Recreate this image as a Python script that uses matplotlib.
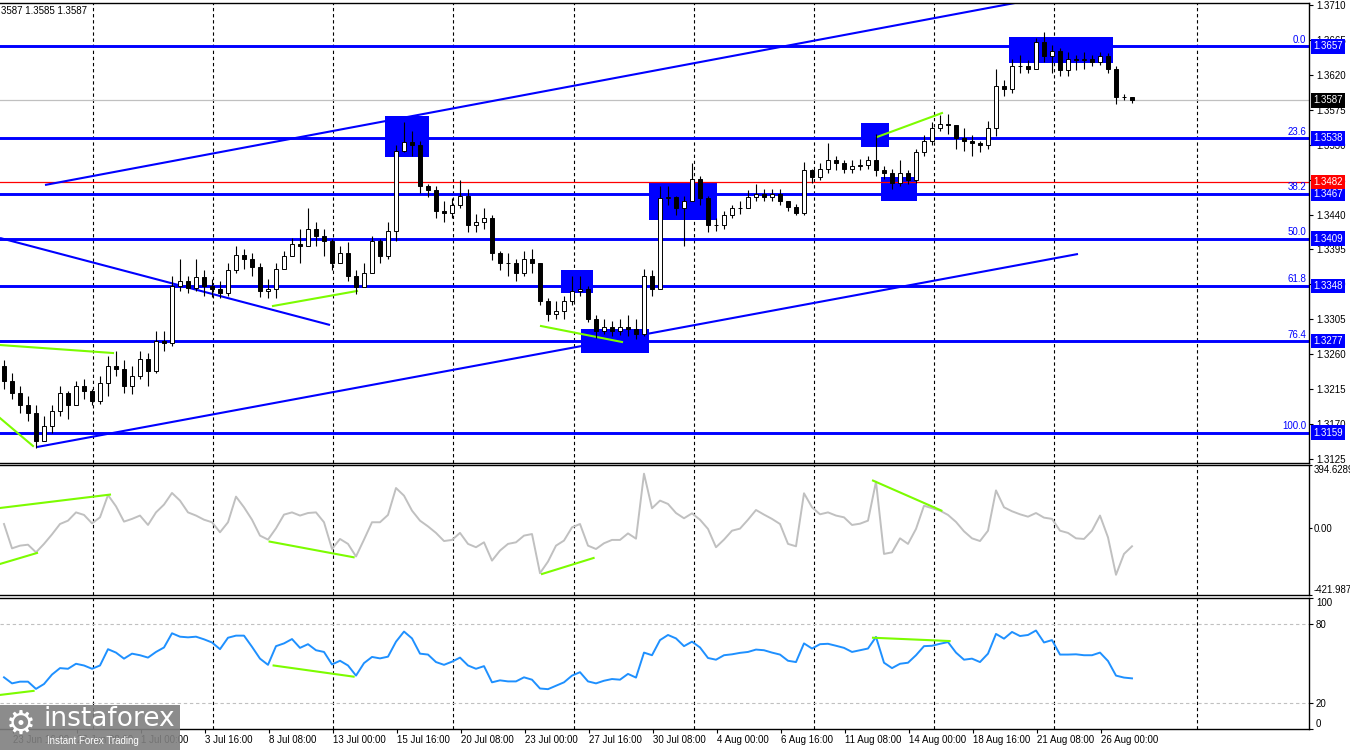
import matplotlib
matplotlib.use("Agg")
import matplotlib.pyplot as plt
import matplotlib.transforms as mtransforms
from matplotlib.patches import Rectangle
import numpy as np

plt.rcParams['font.family'] = ['Liberation Sans', 'DejaVu Sans']

# ---------------- data (GBP/USD H4, candles grouped by 2 bars) ----------------
first_open = 1.3245
closes = [1.3226, 1.3210, 1.3194, 1.3184, 1.3148, 1.3168, 1.3187, 1.3210, 1.3194, 1.3219,
          1.3213, 1.3200, 1.3223, 1.3245, 1.3241, 1.3219, 1.3232, 1.3254, 1.3239, 1.3277,
          1.3275, 1.3348, 1.3355, 1.3346, 1.3359, 1.3348, 1.3344, 1.3339, 1.3368, 1.3388,
          1.3383, 1.3373, 1.3342, 1.3344, 1.3370, 1.3386, 1.3402, 1.3400, 1.3422, 1.3412,
          1.3406, 1.3378, 1.3391, 1.3361, 1.3347, 1.3365, 1.3406, 1.3387, 1.3419, 1.3522,
          1.3534, 1.3529, 1.3477, 1.3471, 1.3445, 1.3442, 1.3452, 1.3464, 1.3426, 1.3430,
          1.3435, 1.3391, 1.3378, 1.3378, 1.3365, 1.3383, 1.3378, 1.3329, 1.3312, 1.3316,
          1.3329, 1.3342, 1.3344, 1.3306, 1.3290, 1.3295, 1.3290, 1.3295, 1.3293, 1.3286,
          1.3361, 1.3344, 1.3461, 1.3462, 1.3448, 1.3458, 1.3486, 1.3461, 1.3426, 1.3426,
          1.3439, 1.3448, 1.3449, 1.3463, 1.3466, 1.3463, 1.3466, 1.3458, 1.3450, 1.3442,
          1.3497, 1.3488, 1.3499, 1.3510, 1.3506, 1.3499, 1.3502, 1.3504, 1.3510, 1.3497,
          1.3494, 1.3481, 1.3494, 1.3484, 1.3520, 1.3535, 1.3551, 1.3557, 1.3555, 1.3538,
          1.3535, 1.3532, 1.3529, 1.3551, 1.3605, 1.3602, 1.3632, 1.3631, 1.3628, 1.3662,
          1.3644, 1.3651, 1.3626, 1.3641, 1.3639, 1.3641, 1.3636, 1.3644, 1.3628, 1.3592,
          1.3591, 1.3587]
highs = [1.3252, 1.3236, 1.3219, 1.3206, 1.3194, 1.3181, 1.3194, 1.3219, 1.3213, 1.3226,
         1.3228, 1.3215, 1.3232, 1.3258, 1.3264, 1.3252, 1.3245, 1.3264, 1.3262, 1.3290,
         1.3290, 1.3361, 1.3383, 1.3361, 1.3383, 1.3368, 1.3357, 1.3355, 1.3378, 1.3400,
         1.3396, 1.3391, 1.3378, 1.3357, 1.3378, 1.3393, 1.3410, 1.3422, 1.3449, 1.3430,
         1.3422, 1.3409, 1.3400, 1.3404, 1.3368, 1.3378, 1.3413, 1.3409, 1.3430, 1.3529,
         1.3559, 1.3548, 1.3535, 1.3480, 1.3477, 1.3458, 1.3461, 1.3484, 1.3473, 1.3441,
         1.3448, 1.3439, 1.3393, 1.3391, 1.3383, 1.3393, 1.3396, 1.3378, 1.3332, 1.3329,
         1.3335, 1.3361, 1.3361, 1.3348, 1.3310, 1.3306, 1.3303, 1.3306, 1.3311, 1.3306,
         1.3370, 1.3368, 1.3477, 1.3477, 1.3464, 1.3464, 1.3507, 1.3490, 1.3464, 1.3435,
         1.3445, 1.3452, 1.3458, 1.3471, 1.3480, 1.3473, 1.3473, 1.3473, 1.3458, 1.3454,
         1.3508, 1.3499, 1.3506, 1.3532, 1.3516, 1.3510, 1.3510, 1.3512, 1.3516, 1.3544,
         1.3503, 1.3499, 1.3510, 1.3497, 1.3525, 1.3542, 1.3559, 1.3568, 1.3570, 1.3555,
         1.3551, 1.3542, 1.3535, 1.3561, 1.3628, 1.3613, 1.3641, 1.3645, 1.3639, 1.3668,
         1.3675, 1.3658, 1.3654, 1.3649, 1.3645, 1.3649, 1.3645, 1.3649, 1.3648, 1.3632,
         1.3595, 1.3592]
lows = [1.3215, 1.3203, 1.3184, 1.3174, 1.3139, 1.3154, 1.3159, 1.3181, 1.3177, 1.3200,
        1.3203, 1.3194, 1.3196, 1.3206, 1.3232, 1.3210, 1.3209, 1.3228, 1.3219, 1.3236,
        1.3264, 1.3271, 1.3342, 1.3339, 1.3342, 1.3335, 1.3334, 1.3332, 1.3335, 1.3365,
        1.3370, 1.3361, 1.3334, 1.3332, 1.3333, 1.3378, 1.3387, 1.3378, 1.3406, 1.3400,
        1.3387, 1.3368, 1.3378, 1.3355, 1.3338, 1.3348, 1.3368, 1.3378, 1.3383, 1.3406,
        1.3520, 1.3516, 1.3468, 1.3462, 1.3435, 1.3430, 1.3435, 1.3448, 1.3417, 1.3417,
        1.3422, 1.3381, 1.3368, 1.3361, 1.3355, 1.3361, 1.3365, 1.3323, 1.3303, 1.3306,
        1.3306, 1.3323, 1.3335, 1.3301, 1.3281, 1.3286, 1.3284, 1.3285, 1.3284, 1.3280,
        1.3283, 1.3335, 1.3352, 1.3452, 1.3439, 1.3400, 1.3464, 1.3452, 1.3417, 1.3419,
        1.3422, 1.3435, 1.3441, 1.3453, 1.3458, 1.3457, 1.3458, 1.3452, 1.3445, 1.3439,
        1.3440, 1.3481, 1.3484, 1.3494, 1.3497, 1.3494, 1.3494, 1.3497, 1.3499, 1.3490,
        1.3486, 1.3473, 1.3477, 1.3479, 1.3481, 1.3516, 1.3529, 1.3548, 1.3544, 1.3525,
        1.3522, 1.3516, 1.3520, 1.3525, 1.3541, 1.3593, 1.3597, 1.3623, 1.3623, 1.3636,
        1.3636, 1.3623, 1.3619, 1.3619, 1.3626, 1.3628, 1.3631, 1.3633, 1.3623, 1.3582,
        1.3587, 1.3584]
cci = [24, -129, -112, -106, -154, -101, -41, 24, 45, 97,
       81, 28, 66, 206, 135, 39, 56, 77, 18, 97,
       146, 219, 171, 97, 77, 51, 35, -28, 35, 196,
       129, 51, -49, -74, -3, 83, 97, 77, 93, 97,
       35, -133, -70, -101, -180, -74, 35, 35, 81, 250,
       202, 108, 45, 9, -32, -83, -76, -32, -101, -122,
       -91, -206, -143, -101, -91, -49, -39, -285, -212, -112,
       -80, 3, 24, -112, -133, -97, -76, -76, -35, -68,
       340, 123, 171, 150, 93, 60, 91, 51, -7, -122,
       -74, -18, -5, 51, 112, 83, 56, 24, -101, -116,
       217, 129, 85, 97, 77, 66, 18, 26, 45, 290,
       -164, -154, -66, -101, -7, 139, 123, 108, 81, 37,
       -22, -66, -83, -18, 235, 129, 104, 85, 70, 93,
       64, 56, -18, -32, -66, -70, -18, 77, -60, -295,
       -164, -116]
stoch = [39.3, 34.7, 36.0, 36.0, 30.5, 34.2, 41.4, 46.3, 45.8, 49.6,
         48.3, 45.8, 48.3, 60.7, 58.1, 53.5, 57.3, 56.1, 54.3, 58.6,
         62.0, 72.8, 70.2, 69.7, 70.2, 68.2, 65.8, 60.7, 69.4, 71.0,
         71.0, 62.5, 53.5, 48.8, 63.0, 65.1, 68.4, 61.7, 64.5, 59.9,
         58.6, 49.1, 51.9, 48.3, 40.6, 50.1, 54.8, 53.7, 55.0, 66.4,
         74.1, 68.9, 57.3, 56.6, 50.9, 48.8, 51.2, 54.3, 48.3, 45.8,
         47.8, 35.5, 37.0, 36.2, 36.2, 39.3, 37.5, 30.8, 30.3, 32.9,
         35.5, 40.6, 43.2, 36.2, 34.7, 36.7, 38.0, 37.5, 41.9, 39.1,
         58.1, 56.1, 67.6, 71.5, 68.9, 63.0, 66.4, 62.0, 54.0, 52.7,
         56.1, 56.8, 57.9, 58.6, 60.4, 59.9, 58.1, 56.6, 51.9, 50.9,
         65.1, 61.2, 64.5, 64.8, 63.3, 61.7, 58.6, 59.9, 61.2, 70.0,
         50.4, 46.3, 49.6, 50.4, 56.1, 63.0, 63.3, 64.8, 66.1, 58.1,
         52.7, 53.5, 50.9, 57.3, 72.3, 68.7, 73.8, 70.7, 71.5, 74.9,
         65.8, 67.6, 56.6, 56.6, 56.8, 56.1, 56.1, 58.1, 51.7, 40.6,
         39.1, 38.5]

date_labels = ["23 Jun 16:00", "26 Jun 08:00", "1 Jul 00:00", "3 Jul 16:00", "8 Jul 08:00",
               "13 Jul 00:00", "15 Jul 16:00", "20 Jul 08:00", "23 Jul 00:00", "27 Jul 16:00",
               "30 Jul 08:00", "4 Aug 00:00", "6 Aug 16:00", "11 Aug 08:00", "14 Aug 00:00",
               "18 Aug 16:00", "21 Aug 08:00", "26 Aug 00:00"]
price_ticks = [1.3710, 1.3665, 1.3620, 1.3575, 1.3530, 1.3485, 1.3440, 1.3395,
               1.3350, 1.3305, 1.3260, 1.3215, 1.3170, 1.3125]
fib_levels = [1.3657, 1.3538, 1.3467, 1.3409, 1.3348, 1.3277, 1.3159]
fib_names = ["0.0", "23.6", "38.2", "50.0", "61.8", "76.4", "100.0"]
last_price = 1.3587
red_level = 1.3482
cci_range = (-421.9874, 394.6289)

# drawn objects (bar index, price / indicator value)
trend_lines = [((11.25, 1.34781), (253.75, 1.37126)),
               ((9.25, 1.31405), (269.5, 1.33892)),
               ((0.0, 1.34098), (82.5, 1.32977))]
green_main = [((0.0, 1.32719), (28.25, 1.32616)),
              ((0.0, 1.31778), (8.25, 1.31418)),
              ((68.25, 1.33222), (89.25, 1.33415)),
              ((135.25, 1.32964), (155.5, 1.32758)),
              ((219.25, 1.35399), (235.5, 1.35708))]
green_cci = [((0.0, 124.6), (27.5, 208.7)),
             ((0.0, -227.0), (9.25, -158.0)),
             ((67.4, -86.4), (88.4, -185.0)),
             ((135.5, -290.0), (148.4, -189.4)),
             ((218.25, 296.7), (235.35, 108.3))]
green_stoch = [((0.0, 25.9), (8.4, 29.0)),
               ((68.4, 48.3), (88.4, 39.8)),
               ((218.25, 69.4), (237.4, 66.9))]
zones = [((96.25, 1.35142), (107.25, 1.35670)),
         ((140.25, 1.33389), (148.25, 1.33685)),
         ((145.25, 1.32616), (162.25, 1.32925)),
         ((162.25, 1.34336), (179.25, 1.34813)),
         ((215.25, 1.35270), (222.25, 1.35580)),
         ((220.25, 1.34575), (229.25, 1.34884)),
         ((252.25, 1.36353), (278.25, 1.36688))]
grid_x = [23.25, 53.25, 83.25, 113.25, 143.4, 173.4, 203.4, 233.4, 263.4, 299.25]

# ---------------- figure ----------------
W, H = 1350, 750
fig = plt.figure(figsize=(13.5, 7.5), dpi=100)
fig.patch.set_facecolor('white')


def px_axes(x0, y0, x1, y1):
    return fig.add_axes([x0 / W, 1 - y1 / H, (x1 - x0) / W, (y1 - y0) / H])


ax = px_axes(0, 2.5, 1309, 463)
ax2 = px_axes(0, 465, 1309, 595)
ax3 = px_axes(0, 597.5, 1309, 729)
XMAX = 1309 / 4.0

BLUE = '#0000FF'
GREEN = '#7CFC00'
FS = 7

for a in (ax, ax2, ax3):
    a.set_xlim(0, XMAX)
    a.spines['left'].set_visible(False)
    for s in ('top', 'right', 'bottom'):
        a.spines[s].set_linewidth(1.0)
        a.spines[s].set_color('black')
    a.yaxis.tick_right()
    a.tick_params(axis='y', length=3, width=0.8, pad=2, labelsize=FS, colors='black')
    for gx in grid_x:
        a.axvline(gx, color='black', lw=0.8, dashes=(3, 2.5), zorder=0.5)

ax.set_xticks([])
ax2.set_xticks([])

# ---------------- main price panel ----------------
n = len(closes)
x = np.arange(n) * 2 + 1
c = np.array(closes)
o = np.concatenate([[first_open], c[:-1]])
h = np.maximum(np.array(highs), np.maximum(o, c))
l = np.minimum(np.array(lows), np.minimum(o, c))

ax.set_ylim(1.31199, 1.37132)

for (x0, y0), (x1, y1) in zones:
    ax.add_patch(Rectangle((x0, y0), x1 - x0, y1 - y0, facecolor=BLUE,
                           edgecolor='none', zorder=1))

for lev in fib_levels:
    ax.axhline(lev, color=BLUE, lw=2.1, zorder=2)
ax.axhline(red_level, color='#FF0000', lw=0.9, zorder=2)
ax.axhline(last_price, color='#C0C0C0', lw=0.9, zorder=2)

for (x0, y0), (x1, y1) in trend_lines:
    ax.plot([x0, x1], [y0, y1], color=BLUE, lw=1.5, zorder=2.2, solid_capstyle='butt')
for (x0, y0), (x1, y1) in green_main:
    ax.plot([x0, x1], [y0, y1], color=GREEN, lw=1.5, zorder=2.3)

ax.vlines(x, l, h, color='black', lw=0.8, zorder=3)
bull = c >= o
body_bot = np.minimum(o, c)
body_h = np.abs(c - o)
ax.bar(x[bull], body_h[bull], bottom=body_bot[bull], width=1.15, color='white',
       edgecolor='black', linewidth=0.7, zorder=4)
ax.bar(x[~bull], body_h[~bull], bottom=body_bot[~bull], width=1.15, color='black',
       edgecolor='black', linewidth=0.7, zorder=4)

ax.set_yticks(price_ticks)
ax.set_yticklabels([f"{p:.4f}" for p in price_ticks])

tr_main = mtransforms.blended_transform_factory(ax.transAxes, ax.transData)
tr_name = mtransforms.offset_copy(tr_main, fig=fig, x=0, y=1.5, units='dots')
for lev, name in zip(fib_levels, fib_names):
    ax.text(1306 / 1309, lev, name, transform=tr_name, ha='right', va='bottom',
            color=BLUE, fontsize=FS, zorder=6)


def right_box(a, y, text, fc):
    trb = mtransforms.blended_transform_factory(a.transAxes, a.transData)
    a.text(1.0 + 4 / 1309, y, text, transform=trb, ha='left', va='center',
           fontsize=FS, color='white', zorder=10, clip_on=False,
           bbox=dict(boxstyle='square,pad=0.25', fc=fc, ec='none'))


for lev in fib_levels:
    right_box(ax, lev, f"{lev:.4f}", BLUE)
right_box(ax, red_level, f"{red_level:.4f}", '#FF0000')
right_box(ax, last_price, f"{last_price:.4f}", 'black')

# ---------------- CCI panel ----------------
ax2.set_ylim(*cci_range)
ax2.plot(x, cci, color='#C0C0C0', lw=1.4, zorder=3)
for (x0, y0), (x1, y1) in green_cci:
    ax2.plot([x0, x1], [y0, y1], color=GREEN, lw=1.5, zorder=4)
ax2.set_yticks([cci_range[0], 0, cci_range[1]])
ax2.set_yticklabels(["-421.9874", "0.00", "394.6289"])
ax2.tick_params(axis='y', length=2, pad=1, labelsize=6.9)
labs = ax2.get_yticklabels()
labs[0].set_va('bottom')
labs[2].set_va('top')

# ---------------- oscillator panel ----------------
ax3.set_ylim(0, 100)
for lvl in (80, 20):
    ax3.axhline(lvl, color='#C0C0C0', lw=0.8, dashes=(3, 2.5), zorder=1)
ax3.plot(x, stoch, color='#1E90FF', lw=1.4, zorder=3)
for (x0, y0), (x1, y1) in green_stoch:
    ax3.plot([x0, x1], [y0, y1], color=GREEN, lw=1.5, zorder=4)
ax3.set_yticks([0, 20, 80, 100])
ax3.set_yticklabels(["0", "20", "80", "100"])
labs = ax3.get_yticklabels()
labs[0].set_va('bottom')
labs[3].set_va('top')

tick_pos = [3.25 + 16 * k for k in range(len(date_labels))]
ax3.set_xticks(tick_pos)
ax3.set_xticklabels(date_labels, fontsize=FS)
ax3.tick_params(axis='x', length=3, width=0.8, pad=1.5, direction='out')
for lab in ax3.get_xticklabels():
    lab.set_ha('left')

# ---------------- header text & watermark ----------------
fig.text(1 / W, 1 - 11 / H, "3587 1.3585 1.3587", fontsize=FS, color='black',
         ha='left', va='center')

fig.add_artist(Rectangle((0, 0), 180 / W, 45 / H, transform=fig.transFigure,
                         facecolor='#808080', alpha=0.9, edgecolor='none', zorder=20))
fig.text(6 / W, 1 - 724 / H, "\u2699", fontsize=24, color='white', ha='left',
         va='center', family='DejaVu Sans', zorder=21)
fig.text(44 / W, 1 - 719 / H, "instaforex", fontsize=19, color='white', ha='left',
         va='center', family='DejaVu Sans', zorder=21)
fig.text(47 / W, 1 - 741 / H, "Instant Forex Trading", fontsize=7, color='white',
         ha='left', va='center', zorder=21)

fig.savefig("out.png", dpi=100, facecolor='white')
